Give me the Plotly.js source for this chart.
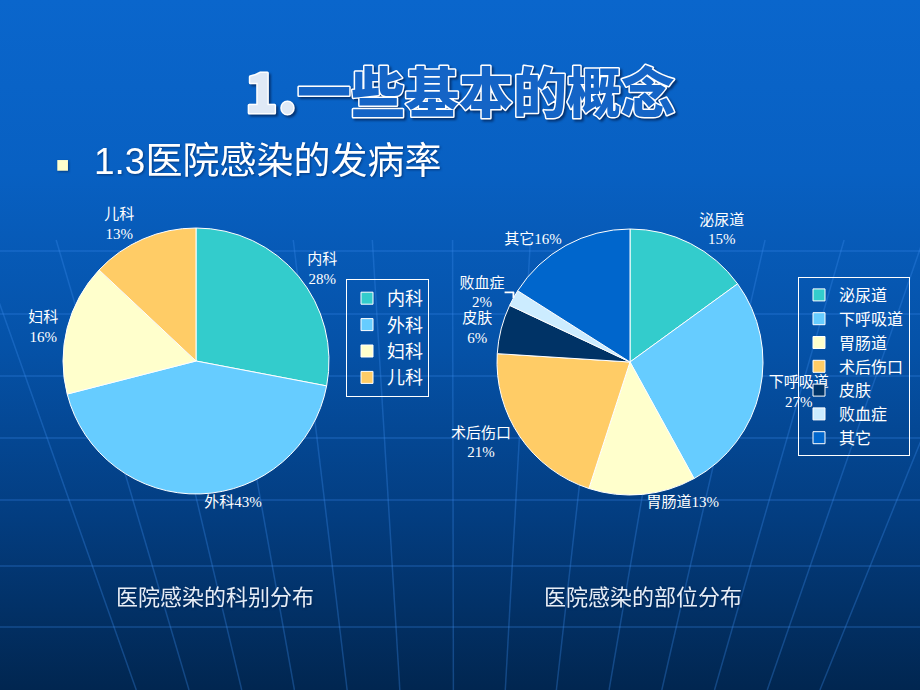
<!DOCTYPE html>
<html>
<head>
<meta charset="utf-8">
<script src="https://cdn.plot.ly/plotly-3.0.1.min.js"></script>
<style>
  html, body { margin: 0; padding: 0; }
  body {
    width: 920px; height: 690px; overflow: hidden;
    background: linear-gradient(180deg, #0a66cc 0%, #0860c2 25%, #0552a8 50%, #033d80 75%, #012650 100%);
  }
  #chart { width: 920px; height: 690px; }
  /* WordArt-style outlined heading */
  #chart .gtitle {
    stroke: #ffffff; stroke-width: 3px; paint-order: stroke; stroke-linejoin: round;
    filter: drop-shadow(2px 2px 1px rgba(0,20,60,0.6));
  }
  #chart .annotation-text { filter: drop-shadow(1px 1px 1px rgba(0,20,60,0.5)); }
</style>
</head>
<body>
<div id="chart"></div>
<script>
const W = 920, H = 690;

// 科别分布
const deptLabels = ["内科", "外科", "妇科", "儿科"];
const deptValues = [28, 43, 16, 13];
const deptInline = ["外科"];

// 部位分布
const siteLabels = ["泌尿道", "下呼吸道", "胃肠道", "术后伤口", "皮肤", "败血症", "其它"];
const siteValues = [15, 27, 13, 21, 6, 2, 16];
const siteInline = ["胃肠道", "其它"];

const deptColors = ["#33CCCC", "#66CCFF", "#FFFFCC", "#FFCC66"];
const siteColors = ["#33CCCC", "#66CCFF", "#FFFFCC", "#FFCC66", "#003366", "#CCECFF", "#0066CC"];

const SERIF = "Liberation Serif, 'Noto Sans CJK SC', serif";
const SANS  = "'Liberation Sans', 'Noto Sans CJK SC', sans-serif";

const px = x => x / W;
const py = y => 1 - y / H;

function sliceText(labels, values, inline) {
  return labels.map((l, i) => inline.includes(l) ? `${l}${values[i]}%` : `${l}<br>${values[i]}%`);
}

// pie placed by centre + radius in pixels
function domainFor(cx, cy, r) {
  return { x: [px(cx - r), px(cx + r)], y: [py(cy + r), py(cy - r)] };
}

// faint globe grid behind the slide
const gridRows = [251, 314, 376, 438, 500, 566, 627];
const gridCols = [62, 127, 192, 257, 322, 387, 453, 517, 580, 645, 710, 775, 840, 905];
const gridLine = { color: "rgba(60,140,235,0.32)", width: 1.5 };
const shapes = [];
gridRows.forEach(y => shapes.push({
  type: "line", xref: "paper", yref: "paper", layer: "below",
  x0: 0, x1: 1, y0: py(y), y1: py(y), line: gridLine,
}));
gridCols.forEach(x => {
  const s = (455 - x) * 0.0009;
  shapes.push({
    type: "line", xref: "paper", yref: "paper", layer: "below",
    x0: px(x + s * (240 - 480)), y0: py(240),
    x1: px(x + s * (690 - 480)), y1: py(690), line: gridLine,
  });
});

const pieCommon = {
  type: "pie", sort: false, direction: "clockwise", rotation: 0,
  textinfo: "text", textposition: "outside",
  outsidetextfont: { family: SERIF, size: 15, color: "#ffffff" },
  hoverinfo: "skip",
};

const traces = [
  {
    ...pieCommon,
    labels: deptLabels, values: deptValues,
    text: sliceText(deptLabels, deptValues, deptInline),
    marker: { colors: deptColors, line: { color: "#ffffff", width: 1 } },
    domain: domainFor(196, 361, 133),
    legend: "legend",
  },
  {
    ...pieCommon,
    labels: siteLabels, values: siteValues,
    text: sliceText(siteLabels, siteValues, siteInline),
    marker: { colors: siteColors, line: { color: "#ffffff", width: 1 } },
    domain: domainFor(630, 362, 133),
    legend: "legend2",
  },
];

const legendBase = {
  xanchor: "left", yanchor: "top",
  bgcolor: "rgba(0,0,0,0)", bordercolor: "#ffffff", borderwidth: 1,
  itemwidth: 30, itemclick: false, itemdoubleclick: false,
};

const layout = {
  width: W, height: H,
  margin: { t: 0, b: 0, l: 0, r: 0 },
  paper_bgcolor: "rgba(0,0,0,0)",
  plot_bgcolor: "rgba(0,0,0,0)",
  font: { family: SANS, color: "#ffffff" },
  title: {
    text: '<span style="color:#dfe9f6">1.</span>一些基本的概念',
    x: 0.5, xanchor: "center", y: py(94), yanchor: "middle",
    font: { family: "'Noto Sans CJK SC', sans-serif", size: 54, weight: 900, color: "#1464c6" },
  },
  showlegend: true,
  legend:  { ...legendBase, x: px(346), y: py(279), font: { family: SERIF, size: 18, color: "#ffffff" } },
  legend2: { ...legendBase, x: px(798), y: py(277), font: { family: SERIF, size: 16, color: "#ffffff" } },
  shapes,
  annotations: [
    { text: "■", x: px(62), y: py(165), xref: "paper", yref: "paper", showarrow: false,
      xanchor: "center", yanchor: "middle", font: { size: 22, color: "#FFFFCC" } },
    { text: "1.3医院感染的发病率", x: px(92), y: py(162), xref: "paper", yref: "paper", showarrow: false,
      xanchor: "left", yanchor: "middle", font: { family: SANS, size: 37, color: "#ffffff" } },
    { text: "医院感染的科别分布", x: px(215), y: py(595), xref: "paper", yref: "paper", showarrow: false,
      xanchor: "center", yanchor: "middle", font: { family: "'Noto Sans CJK SC', sans-serif", size: 22, color: "#e6edf6" } },
    { text: "医院感染的部位分布", x: px(643), y: py(595), xref: "paper", yref: "paper", showarrow: false,
      xanchor: "center", yanchor: "middle", font: { family: "'Noto Sans CJK SC', sans-serif", size: 22, color: "#e6edf6" } },
  ],
};

Plotly.newPlot("chart", traces, layout, { displayModeBar: false, staticPlot: true });
</script>
</body>
</html>
